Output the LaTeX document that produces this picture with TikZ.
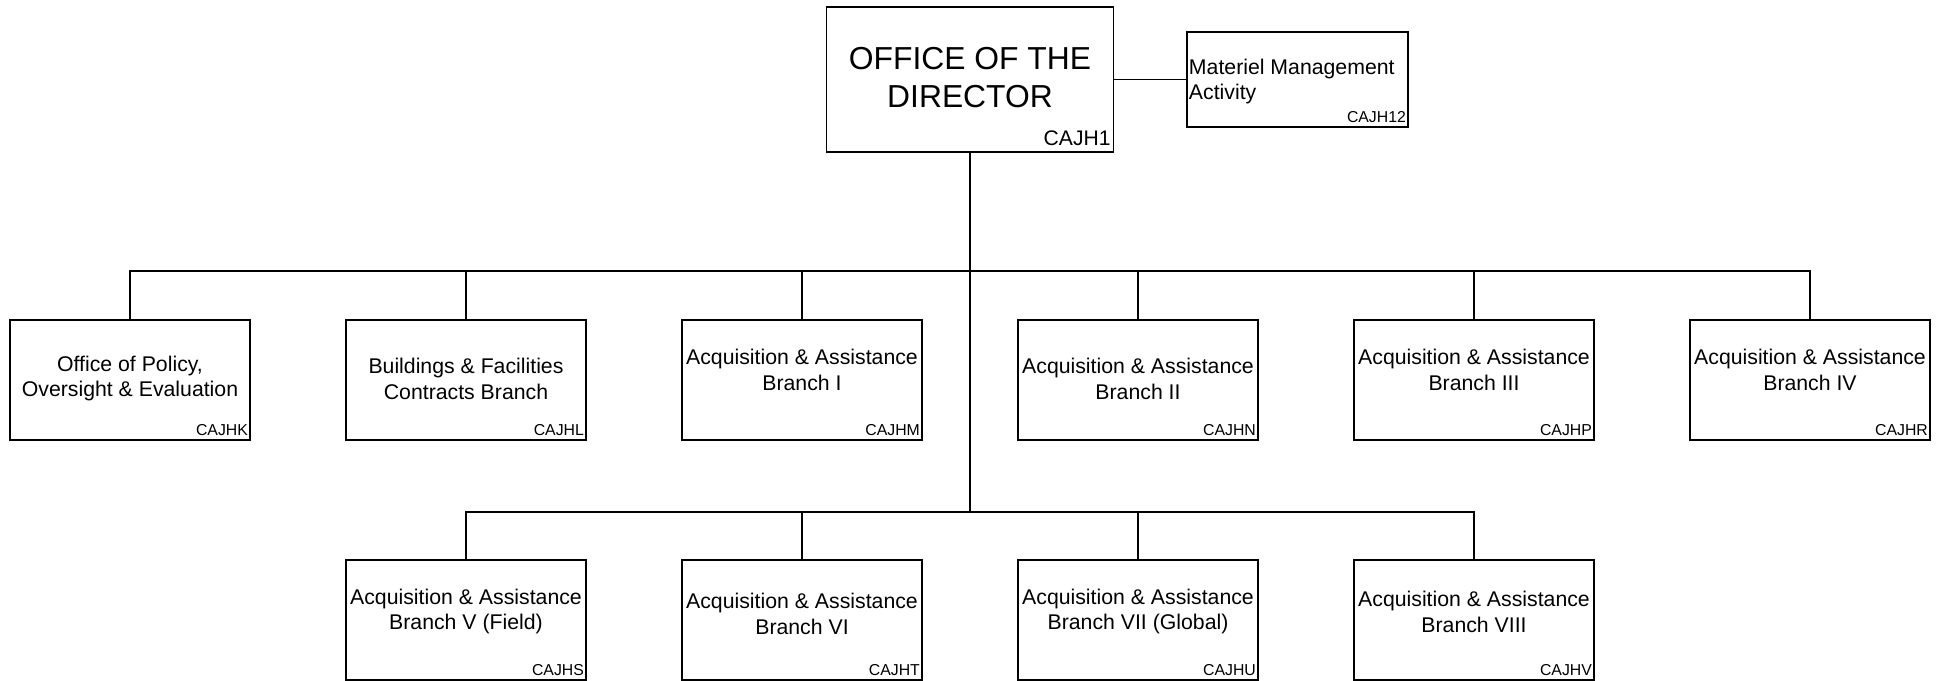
\documentclass[tikz,border=0pt]{standalone}
\usepackage{fontspec}
\setmainfont{Liberation Sans}
\usepackage{tikz}

\tikzset{
    unit/.style={draw, black, line width=1pt, minimum width=4.8cm, minimum height=2.4cm, inner sep=0pt},
    lbl/.style={align=center, inner sep=0pt, font=\fontsize{12.1}{14.7}\selectfont},
    code/.style={anchor=south east, inner xsep=1.5pt, inner ysep=2.5pt, font=\fontsize{9}{10}\selectfont},
    wire/.style={black, line width=1pt}
}

\begin{document}
\begin{tikzpicture}
        \useasboundingbox (0,0) rectangle (38.84,-13.62);

        % Director and the activity beside it
        \node[unit, minimum width=5.74cm, minimum height=2.9cm] (dir) at (19.4,-1.59) {};
        \node[inner sep=0pt, align=center, font=\fontsize{18.1}{21.6}\selectfont] (dirT) at ([yshift=0.04cm]dir.center) {OFFICE OF THE\\DIRECTOR};
        \node[code, inner xsep=2pt, inner ysep=4pt, font=\fontsize{12}{14}\selectfont] (dirC) at (dir.south east) {CAJH1};

        \node[unit, minimum width=4.42cm, minimum height=1.9cm] (mat) at (25.95,-1.59) {};
        \node[lbl, align=left, anchor=west] (matT) at ([xshift=0.05cm, yshift=-0.04cm]mat.west) {Materiel Management\\Activity};
        \node[code] (matC) at (mat.south east) {CAJH12};

        % First row of branches
        \node[unit] (pol) at (2.6,-7.6) {};
        \node[lbl] (polT) at ([yshift=0.03cm]pol.center) {Office of Policy,\\Oversight \& Evaluation};
        \node[code] (polC) at (pol.south east) {CAJHK};

        \node[unit] (bfc) at (9.32,-7.6) {};
        \node[lbl] (bfcT) at ([yshift=0.03cm]bfc.center) {Buildings \& Facilities\\Contracts Branch};
        \node[code] (bfcC) at (bfc.south east) {CAJHL};

        \node[unit] (aaI) at (16.04,-7.6) {};
        \node[lbl] (aaIT) at ([yshift=0.2cm]aaI.center) {Acquisition \& Assistance\\Branch I};
        \node[code] (aaIC) at (aaI.south east) {CAJHM};

        \node[unit] (aaII) at (22.76,-7.6) {};
        \node[lbl] (aaIIT) at ([yshift=0.03cm]aaII.center) {Acquisition \& Assistance\\Branch II};
        \node[code] (aaIIC) at (aaII.south east) {CAJHN};

        \node[unit] (aaIII) at (29.48,-7.6) {};
        \node[lbl] (aaIIIT) at ([yshift=0.2cm]aaIII.center) {Acquisition \& Assistance\\Branch III};
        \node[code] (aaIIIC) at (aaIII.south east) {CAJHP};

        \node[unit] (aaIV) at (36.2,-7.6) {};
        \node[lbl] (aaIVT) at ([yshift=0.2cm]aaIV.center) {Acquisition \& Assistance\\Branch IV};
        \node[code] (aaIVC) at (aaIV.south east) {CAJHR};

        % Second row of branches
        \node[unit] (aaV) at (9.32,-12.4) {};
        \node[lbl] (aaVT) at ([yshift=0.17cm]aaV.center) {Acquisition \& Assistance\\Branch V (Field)};
        \node[code] (aaVC) at (aaV.south east) {CAJHS};

        \node[unit] (aaVI) at (16.04,-12.4) {};
        \node[lbl] (aaVIT) at ([yshift=0.13cm]aaVI.center) {Acquisition \& Assistance\\Branch VI};
        \node[code] (aaVIC) at (aaVI.south east) {CAJHT};

        \node[unit] (aaVII) at (22.76,-12.4) {};
        \node[lbl] (aaVIIT) at ([yshift=0.17cm]aaVII.center) {Acquisition \& Assistance\\Branch VII (Global)};
        \node[code] (aaVIIC) at (aaVII.south east) {CAJHU};

        \node[unit] (aaVIII) at (29.48,-12.4) {};
        \node[lbl] (aaVIIIT) at ([yshift=0.17cm]aaVIII.center) {Acquisition \& Assistance\\Branch VIII};
        \node[code] (aaVIIIC) at (aaVIII.south east) {CAJHV};

        % Bus lines
        \coordinate (topbus) at (19.4,-5.42);
        \coordinate (botbus) at (19.4,-10.24);

        % Draw the connectors
        \draw[wire] (dir.east) -- (mat.west);
        \draw[wire] (dir.south) -- (botbus);
        \draw[wire] (pol.north) |- (topbus) -| (aaIV.north);
        \draw[wire] (bfc.north) -- (bfc.north |- topbus);
        \draw[wire] (aaI.north) -- (aaI.north |- topbus);
        \draw[wire] (aaII.north) -- (aaII.north |- topbus);
        \draw[wire] (aaIII.north) -- (aaIII.north |- topbus);
        \draw[wire] (aaV.north) |- (botbus) -| (aaVIII.north);
        \draw[wire] (aaVI.north) -- (aaVI.north |- botbus);
        \draw[wire] (aaVII.north) -- (aaVII.north |- botbus);
    \end{tikzpicture}
\end{document}
